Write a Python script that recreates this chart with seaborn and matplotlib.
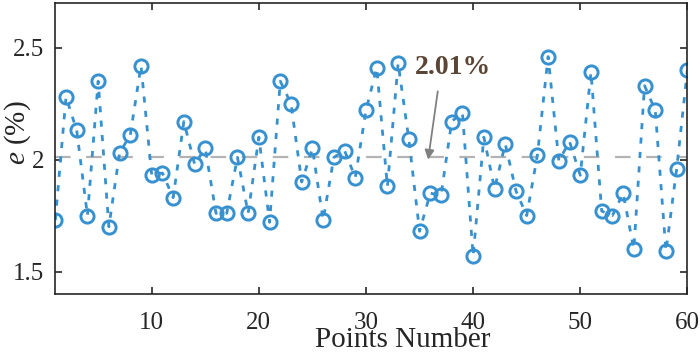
import numpy as np
import pandas as pd
import matplotlib
matplotlib.use("Agg")
import matplotlib.pyplot as plt
import seaborn as sns

# значения ошибки e (%) по точкам
points = list(range(1, 61))
errors = [1.73, 2.28, 2.13, 1.75, 2.35, 1.70, 2.03, 2.11, 2.42, 1.93,
          1.94, 1.83, 2.17, 1.98, 2.05, 1.76, 1.76, 2.01, 1.76, 2.10,
          1.72, 2.35, 2.25, 1.90, 2.05, 1.73, 2.01, 2.04, 1.92, 2.22,
          2.41, 1.88, 2.43, 2.09, 1.68, 1.85, 1.84, 2.17, 2.21, 1.57,
          2.10, 1.87, 2.07, 1.86, 1.75, 2.02, 2.46, 1.995, 2.08, 1.93,
          2.39, 1.77, 1.75, 1.85, 1.60, 2.33, 2.22, 1.59, 1.96, 2.40]
mean_val = 2.01
mean_label = "2.01%"
xticks = [10, 20, 30, 40, 50, 60]
yticks = [1.5, 2, 2.5]

df = pd.DataFrame({"Point": points, "e": errors})

sns.set_style("ticks")
plt.rcParams['font.family'] = ['Liberation Serif', 'DejaVu Serif']
plt.rcParams['mathtext.fontset'] = 'custom'
plt.rcParams['mathtext.it'] = 'Liberation Serif:italic'
plt.rcParams['mathtext.rm'] = 'Liberation Serif'

fig = plt.figure(figsize=(7, 3.55), dpi=100)
ax = fig.add_axes([0.079, 0.172, 0.903, 0.82])

blue = '#3791D0'
# средняя линия
ax.axhline(mean_val, color='#b3b3b3', lw=1.6, dashes=(7, 7), zorder=1)

sns.lineplot(data=df, x="Point", y="e", ax=ax, color=blue, lw=2.0,
             marker='o', markersize=9.5, markerfacecolor='none',
             markeredgecolor=blue, markeredgewidth=2.1, zorder=2)
ax.lines[-1].set_dashes((2.2, 3.0))

# подпись среднего и стрелка
ax.annotate('', xy=(35.8, 2.0), xytext=(36.7, 2.305),
            arrowprops=dict(arrowstyle='-|>', color='#808080', lw=1.3,
                            mutation_scale=14, shrinkA=0, shrinkB=0))
ax.text(38.1, 2.41, mean_label, ha='center', va='center', fontsize=20,
        fontweight='bold', color='#5b4636')

ax.set_xlim(1, 60)
ax.set_ylim(1.4, 2.7)
ax.set_xticks(xticks)
ax.set_yticks(yticks)
ax.set_yticklabels(['1.5', '2', '2.5'])
ax.tick_params(direction='in', top=True, right=True, labelsize=18, length=5,
               width=1.2)
ax.tick_params(axis='x', pad=13)
ax.tick_params(axis='y', pad=8)
for s in ax.spines.values():
    s.set_linewidth(1.2)
ax.set_xlabel("Points Number", fontsize=21)
ax.set_ylabel("$e$ (%)", fontsize=21)
ax.xaxis.set_label_coords(0.549, -0.115)
ax.yaxis.set_label_coords(-0.036, 0.553)

fig.savefig("out.png", dpi=100)
